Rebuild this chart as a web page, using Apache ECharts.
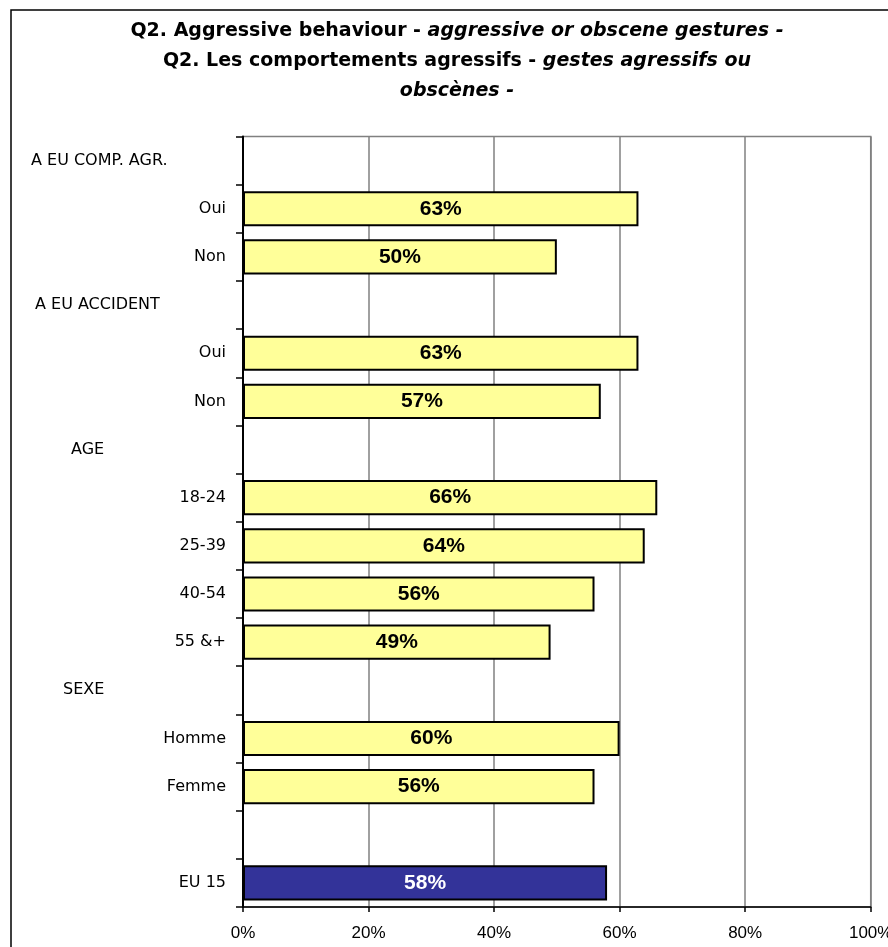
<!DOCTYPE html>
<html>
<head>
<meta charset="utf-8">
<script src="https://cdn.jsdelivr.net/npm/echarts@6/dist/echarts.min.js"></script>
<style>
html,body{margin:0;padding:0;background:#fff;}
#chart{width:888px;height:947px;}
</style>
</head>
<body>
<div id="chart"></div>
<script>
// Data
const categories = ['A EU COMP. AGR.', 'Oui', 'Non', 'A EU ACCIDENT', 'Oui', 'Non', 'AGE', '18-24', '25-39', '40-54', '55 &+', 'SEXE', 'Homme', 'Femme', '', 'EU 15'];
const values = [null, 63, 50, null, 63, 57, null, 66, 64, 56, 49, null, 60, 56, null, 58];
const headers = ['A EU COMP. AGR.', 'A EU ACCIDENT', 'AGE', 'SEXE'];
const xTicks = [0, 20, 40, 60, 80, 100];
const totalLabel = 'EU 15';

const FONT = '"Liberation Sans", Arial, sans-serif';
const FONT_WIDE = '"DejaVu Sans", "Liberation Sans", sans-serif';
const headerWidths = [195, 191, 155, 163];

const chart = echarts.init(document.getElementById('chart'), null, {renderer: 'canvas'});

const seriesData = values.map((v, i) => {
  if (v === null) return '-';
  if (categories[i] === totalLabel) {
    return {value: v, itemStyle: {color: '#333399'}, label: {color: '#ffffff'}};
  }
  return v;
});

const rich = {};
headers.forEach((h, k) => {
  rich['h' + k] = {width: headerWidths[k], align: 'left', fontSize: 16, fontFamily: FONT_WIDE, color: '#000'};
});

chart.setOption({
  animation: false,
  backgroundColor: '#ffffff',
  title: {
    left: 452,
    top: 11,
    textAlign: 'center',
    text: '{b|Q2. Aggressive behaviour - }{bi|aggressive or obscene gestures -}\n{b|Q2. Les comportements agressifs - }{bi|gestes agressifs ou}\n{bi|obscènes -}',
    textStyle: {
      rich: {
        b: {fontFamily: FONT_WIDE, fontWeight: 'bold', fontSize: 19, lineHeight: 30, color: '#000'},
        bi: {fontFamily: FONT_WIDE, fontWeight: 'bold', fontStyle: 'italic', fontSize: 19, lineHeight: 30, color: '#000'}
      }
    }
  },
  graphic: [{
    type: 'rect',
    shape: {x: 11, y: 10, width: 900, height: 960},
    style: {fill: 'none', stroke: '#000', lineWidth: 1.5},
    silent: true,
    z: -1
  }],
  grid: {
    left: 243, right: 17.3, top: 136.5, bottom: 40,
    show: true, borderColor: '#808080', borderWidth: 1.5, backgroundColor: 'transparent',
    containLabel: false,
    outerBoundsMode: 'none'
  },
  xAxis: {
    type: 'value',
    min: xTicks[0], max: xTicks[xTicks.length - 1], interval: 20,
    axisLine: {show: true, lineStyle: {color: '#000', width: 1.5}},
    axisTick: {show: true, length: 5, lineStyle: {color: '#000', width: 1.5}},
    splitLine: {show: true, lineStyle: {color: '#808080', width: 1.5}},
    axisLabel: {formatter: '{value}%', color: '#000', fontSize: 17, fontFamily: FONT, margin: 18}
  },
  yAxis: {
    type: 'category',
    inverse: true,
    data: categories,
    axisLine: {show: true, lineStyle: {color: '#000', width: 2}},
    axisTick: {show: true, length: 7, lineStyle: {color: '#000', width: 1.5}},
    splitLine: {show: false},
    axisLabel: {
      interval: 0,
      color: '#000', fontSize: 16, fontFamily: FONT_WIDE, margin: 17,
      formatter: function (val) {
        const k = headers.indexOf(val);
        if (k >= 0) return '{h' + k + '|' + val + '}';
        return val;
      },
      rich: rich
    }
  },
  series: [{
    type: 'bar',
    data: seriesData,
    barCategoryGap: '27%',
    itemStyle: {color: '#FFFF99', borderColor: '#000', borderWidth: 2},
    label: {
      show: true, position: 'inside', formatter: '{c}%',
      color: '#000', fontWeight: 'bold', fontSize: 21, fontFamily: FONT
    }
  }]
});
</script>
</body>
</html>
